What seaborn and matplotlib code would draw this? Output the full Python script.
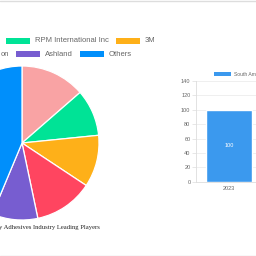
import matplotlib
matplotlib.use("Agg")
import matplotlib.pyplot as plt
import seaborn as sns
import pandas as pd
from matplotlib.patches import Rectangle
from matplotlib.lines import Line2D

# ---- data (texts as visible in the cropped reference) ----
players = ["", "RPM International Inc", "3M", "on", "Ashland", "Others"]
shares = [13.6, 9.8, 10.9, 12.4, 9.6, 43.7]
colors = ["#F9A3A4", "#00E396", "#FEB019", "#FF4560", "#775DD0", "#008FFB"]
title = "y Adhesives Industry Leading Players"
years = ["2023"]
region_values = [100]
region_name = "South Am"

sns.set_theme(style="white")
plt.rcParams['font.family'] = ['Liberation Sans', 'DejaVu Sans']

W = H = 256
fig = plt.figure(figsize=(2.56, 2.56), dpi=100)
fig.patch.set_facecolor("white")


def fx(px):
    return px / W


def fy(py):
    return 1 - py / H


# ---- pie ----
cx, cy, r = 22, 143, 77
pax = fig.add_axes([fx(cx - r), fy(cy + r), 2 * r / W, 2 * r / H])
pax.pie(shares, colors=colors, startangle=90, counterclock=False, radius=1,
        wedgeprops=dict(edgecolor="white", linewidth=0.9))
pax.set_xlim(-1, 1)
pax.set_ylim(-1, 1)
pax.set_aspect("equal")
pax.axis("off")

# pie legend (chart.js-like flowing rows, left part cut off)
legend_items = [  # (index, patch_x, row_y)
    (1, 6, 41),
    (2, 116, 41),
    (4, 16, 54),
    (5, 80, 54),
]
for idx, px, py in legend_items:
    fig.add_artist(Rectangle((fx(px), fy(py + 3)), 24 / W, 6 / H,
                             transform=fig.transFigure, facecolor=colors[idx],
                             edgecolor="none"))
    fig.text(fx(px + 29), fy(py), players[idx], fontsize=5.5, color="#666666",
             ha="left", va="center")
# item whose label is cut at the left edge
fig.text(fx(9.5), fy(54), players[3], fontsize=5.5, color="#666666",
         ha="right", va="center")

fig.text(fx(100), fy(227), title, fontsize=4.8, color="#222222",
         family=["Liberation Serif", "DejaVu Serif"], ha="right", va="center")

# ---- bar chart ----
bax = fig.add_axes([fx(196), fy(181.7), 66 / W, (181.7 - 81) / H])
df = pd.DataFrame({"year": years, "value": region_values})
sns.barplot(data=df, x="year", y="value", ax=bax, color="#3B99EE",
            width=0.7, saturation=1)
bax.set_ylim(0, 140)
bax.set_yticks(range(0, 141, 20))
bax.set_xlabel("")
bax.set_ylabel("")
bax.grid(axis="y", color="#ececec", linewidth=0.6)
bax.set_axisbelow(True)
for s in ["top", "right"]:
    bax.spines[s].set_visible(False)
for s in ["left", "bottom"]:
    bax.spines[s].set_color("#dddddd")
    bax.spines[s].set_linewidth(0.6)
bax.tick_params(axis="y", labelsize=4, colors="#666666", length=3, width=0.5,
                color="#dddddd", pad=1, left=True)
bax.tick_params(axis="x", labelsize=4, colors="#666666", length=0, pad=3)
bax.set_facecolor("white")
for c in bax.containers:
    bax.bar_label(c, label_type="center", color="white", fontsize=4)

fig.add_artist(Rectangle((fx(214), fy(75.7)), 17 / W, 4 / H,
                         transform=fig.transFigure, facecolor="#3B99EE",
                         edgecolor="none"))
fig.text(fx(233.5), fy(74), region_name, fontsize=3.6, color="#666666",
         ha="left", va="center")

# page borders
fig.add_artist(Line2D([0, 1], [fy(0.5), fy(0.5)], color="#dddddd", lw=1,
                      transform=fig.transFigure))
fig.add_artist(Line2D([0, 1], [fy(255.5), fy(255.5)], color="#dddddd", lw=1,
                      transform=fig.transFigure))

fig.savefig("out.png", dpi=100, facecolor="white")
